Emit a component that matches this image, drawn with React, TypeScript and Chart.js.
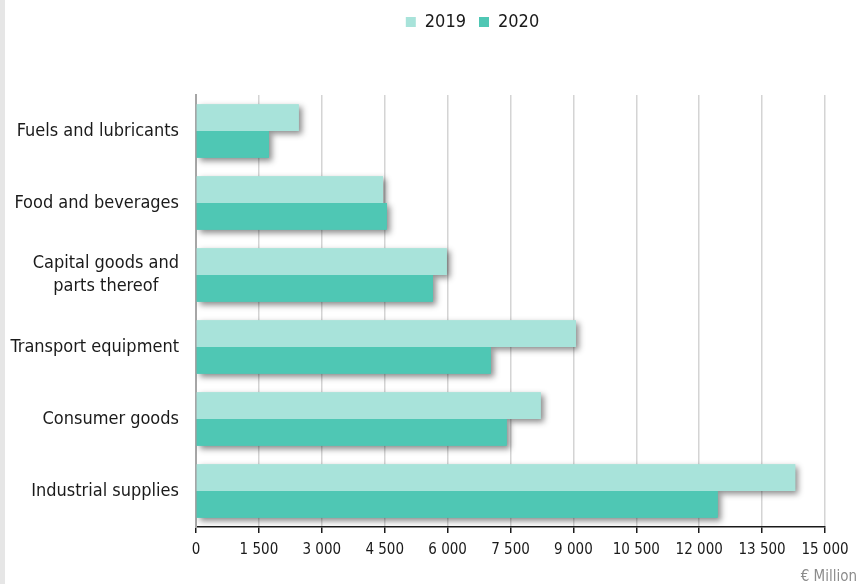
import React, { useEffect, useRef } from 'react';
import { Chart, registerables } from 'chart.js';

Chart.register(...registerables);

const categories: (string | string[])[] = [
  'Fuels and lubricants',
  'Food and beverages',
  ['Capital goods and', 'parts thereof    '],
  'Transport equipment',
  'Consumer goods',
  'Industrial supplies',
];
const seriesNames = ['2019', '2020'];
const values2019 = [2450, 4460, 5980, 9060, 8220, 14290];
const values2020 = [1740, 4550, 5650, 7030, 7410, 12440];
const xMin = 0;
const xMax = 15000;
const xStep = 1500;
const unitLabel = '€ Million';

const COLOR_2019 = '#a8e3da';
const COLOR_2020 = '#4fc7b4';
const FONT = '"DejaVu Sans Condensed", "DejaVu Sans", sans-serif';

const fmt = (v: number) => String(v).replace(/\B(?=(\d{3})+(?!\d))/g, ' ');

const barShadow = {
  id: 'barShadow',
  beforeDatasetsDraw(chart: any) {
    const ctx = chart.ctx;
    const a = chart.chartArea;
    ctx.save();
    ctx.beginPath();
    ctx.rect(a.left, a.top, a.right - a.left + 20, a.bottom - a.top);
    ctx.clip();
    ctx.shadowColor = 'rgba(0,0,0,0.45)';
    ctx.shadowBlur = 6;
    ctx.shadowOffsetX = 3;
    ctx.shadowOffsetY = 3;
    chart.data.datasets.forEach((ds: any, i: number) => {
      const meta = chart.getDatasetMeta(i);
      ctx.fillStyle = ds.backgroundColor;
      meta.data.forEach((el: any) => {
        const { x, y, base, height } = el.getProps(['x', 'y', 'base', 'height'], true);
        ctx.fillRect(Math.min(base, x), y - height / 2, Math.abs(x - base), height);
      });
    });
    ctx.restore();
  },
};

const legendSpacing = {
  id: 'legendSpacing',
  beforeInit(chart: any) {
    const legend = chart.legend;
    if (!legend) return;
    const orig = legend.fit;
    legend.fit = function () {
      orig.call(this);
      this.height = 95;
    };
  },
  afterLayout(chart: any) {
    const legend = chart.legend;
    if (!legend) return;
    legend.left += 60;
    legend.right += 60;
  },
};

const unitText = {
  id: 'unitText',
  afterDraw(chart: any) {
    const ctx = chart.ctx;
    ctx.save();
    ctx.font = `15px ${FONT}`;
    ctx.fillStyle = '#8c8c8c';
    ctx.textAlign = 'right';
    ctx.textBaseline = 'middle';
    ctx.fillText(unitLabel, 857, 577);
    ctx.restore();
  },
};

export default function App() {
  const ref = useRef<HTMLCanvasElement | null>(null);

  useEffect(() => {
    if (!ref.current) return;
    const chart = new Chart(ref.current, {
      type: 'bar',
      data: {
        labels: categories as any,
        datasets: [
          {
            label: seriesNames[0],
            data: values2019,
            backgroundColor: COLOR_2019,
            borderWidth: 0,
            categoryPercentage: 0.74,
            barPercentage: 1,
          },
          {
            label: seriesNames[1],
            data: values2020,
            backgroundColor: COLOR_2020,
            borderWidth: 0,
            categoryPercentage: 0.74,
            barPercentage: 1,
          },
        ],
      },
      options: {
        indexAxis: 'y',
        animation: false,
        responsive: true,
        maintainAspectRatio: false,
        layout: { padding: { top: 0, right: 34, bottom: 0, left: 0 } },
        plugins: {
          tooltip: { enabled: false },
          legend: {
            position: 'top',
            align: 'center',
            labels: {
              boxWidth: 10,
              boxHeight: 10,
              padding: 13,
              color: '#1a1a1a',
              font: { family: FONT, size: 18 },
            },
          },
        },
        scales: {
          x: {
            type: 'linear',
            min: xMin,
            max: xMax,
            afterFit(scale: any) {
              scale.height = 57;
            },
            ticks: {
              stepSize: xStep,
              autoSkip: false,
              maxRotation: 0,
              padding: 8,
              color: '#1a1a1a',
              font: { family: FONT, size: 15 },
              callback: (v: any) => fmt(Number(v)),
            },
            grid: {
              color: '#d4d4d4',
              lineWidth: 1.5,
              tickColor: '#1a1a1a',
              tickLength: 6,
              tickWidth: 1.5,
            },
            border: { color: '#1a1a1a', width: 1.5 },
          },
          y: {
            type: 'category',
            afterFit(scale: any) {
              scale.width = 196;
            },
            ticks: {
              padding: 17,
              color: '#1a1a1a',
              font: { family: FONT, size: 18, lineHeight: 1.28 },
            },
            grid: { display: false, drawTicks: false },
            border: { color: '#a6a6a6', width: 2 },
          },
        },
      },
      plugins: [barShadow, legendSpacing, unitText],
    } as any);
    return () => chart.destroy();
  }, []);

  return (
    <div style={{ position: 'absolute', left: 0, top: 0, width: 859, height: 584, background: '#fff' }}>
      <div style={{ position: 'absolute', left: 0, top: 0, width: 5, height: 584, background: '#e6e6e6' }} />
      <div style={{ position: 'absolute', left: 0, top: 0, width: 859, height: 584 }}>
        <canvas ref={ref} />
      </div>
    </div>
  );
}
